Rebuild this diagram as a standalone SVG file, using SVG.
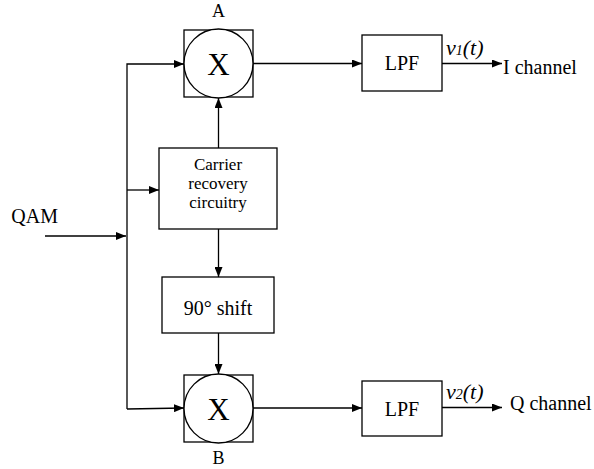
<svg xmlns="http://www.w3.org/2000/svg" width="594" height="469" viewBox="0 0 594 469">
<defs>
<style>
.b{fill:#fff;stroke:#000;stroke-width:1.3}
.l{fill:none;stroke:#000;stroke-width:1.3}
.t{font-family:"Liberation Serif","Times New Roman",serif;font-size:20px;fill:#000}
.c{text-anchor:middle}
.v{font-style:italic;font-size:22px}
.s{font-size:18px}
.cr{font-size:17px}
</style>
<marker id="ah" viewBox="0 0 10 8" refX="10" refY="4" markerWidth="10" markerHeight="8" markerUnits="userSpaceOnUse" orient="auto">
<path d="M0,0 L10,4 L0,8 Z" fill="#000"/>
</marker>
</defs>
<g id="connectors">
<path class="l" d="M45,236 H126" marker-end="url(#ah)"/>
<path class="l" d="M127,409 V64 H184" marker-end="url(#ah)"/>
<path class="l" d="M127,190 H159" marker-end="url(#ah)"/>
<path class="l" d="M127,409 L184,408" marker-end="url(#ah)"/>
<path class="l" d="M218.5,148 V98" marker-end="url(#ah)"/>
<path class="l" d="M218.5,229 V277" marker-end="url(#ah)"/>
<path class="l" d="M218.5,333 V374" marker-end="url(#ah)"/>
<path class="l" d="M253,63.5 H362" marker-end="url(#ah)"/>
<path class="l" d="M253,408 H362" marker-end="url(#ah)"/>
<path class="l" d="M442,63.5 H502" marker-end="url(#ah)"/>
<path class="l" d="M442,407.5 H502" marker-end="url(#ah)"/>
</g>
<g id="mixerA">
<rect class="b" x="184" y="30" width="69" height="67"/>
<circle class="b" cx="218.5" cy="63.5" r="34.5"/>
<text class="t c" x="218.5" y="75" style="font-size:31px">X</text>
<text class="t c s" x="218.5" y="17">A</text>
</g>
<g id="mixerB">
<rect class="b" x="184" y="375" width="69" height="67"/>
<circle class="b" cx="218.5" cy="408.5" r="34.5"/>
<text class="t c" x="218.5" y="420" style="font-size:31px">X</text>
<text class="t c s" x="218.5" y="464">B</text>
</g>
<g id="carrier">
<rect class="b" x="159" y="148" width="118" height="81"/>
<text class="t c cr" x="218" y="170">Carrier</text>
<text class="t c cr" x="218" y="189">recovery</text>
<text class="t c cr" x="218" y="208">circuitry</text>
</g>
<g id="shift">
<rect class="b" x="162" y="277" width="112" height="56"/>
<text class="t c" x="218" y="315">90° shift</text>
</g>
<g id="lpf1">
<rect class="b" x="362" y="35" width="80" height="56"/>
<text class="t c" x="402" y="70">LPF</text>
</g>
<g id="lpf2">
<rect class="b" x="362" y="381" width="80" height="55"/>
<text class="t c" x="402" y="416">LPF</text>
</g>
<g id="labels">
<text class="t" x="58" y="223" text-anchor="end">QAM</text>
<text class="t v" x="446" y="55">v<tspan style="font-size:14px">1</tspan>(t)</text>
<text class="t" x="503" y="74">I channel</text>
<text class="t v" x="446" y="399">v<tspan style="font-size:14px">2</tspan>(t)</text>
<text class="t" x="510" y="410">Q channel</text>
</g>
</svg>
